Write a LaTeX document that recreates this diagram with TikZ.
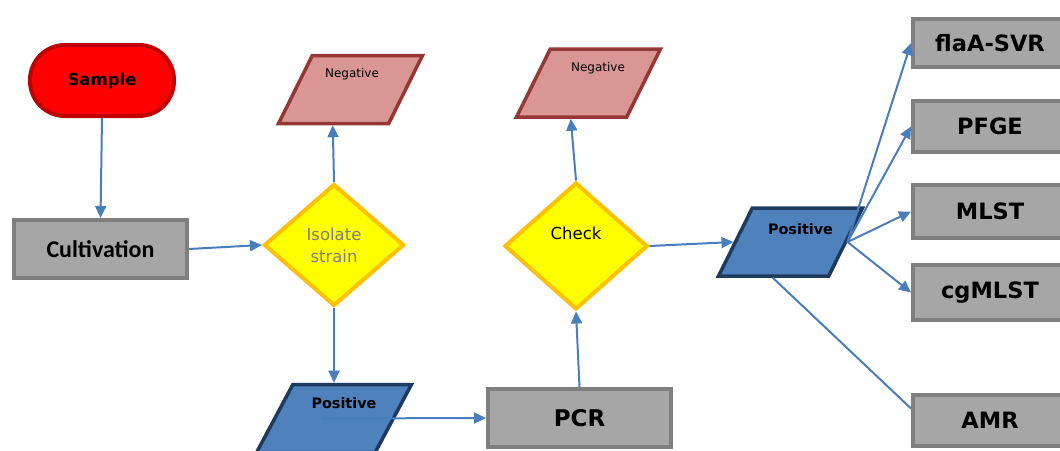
\documentclass[tikz,border=0pt]{standalone}
\usepackage{fontspec}
\setmainfont{DejaVu Sans}
\newfontfamily\calibri{Carlito}
\usetikzlibrary{shapes.geometric,arrows.meta}

\definecolor{arrowblue}{HTML}{4A7EBB}
\definecolor{boxfill}{HTML}{A6A6A6}
\definecolor{boxline}{HTML}{7F7F7F}
\definecolor{negfill}{HTML}{D99694}
\definecolor{negline}{HTML}{953735}
\definecolor{posfill}{HTML}{4F81BD}
\definecolor{posline}{HTML}{1F3A5F}
\definecolor{decfill}{HTML}{FFFF00}
\definecolor{decline}{HTML}{FFC000}
\definecolor{startfill}{HTML}{FF0000}
\definecolor{startline}{HTML}{C00000}

\tikzset{
  startbox/.style={rectangle, rounded corners=35pt, draw=startline, fill=startfill,
    line width=4pt, minimum width=144pt, minimum height=71pt, inner sep=0pt,
    font=\bfseries\fontsize{16.5}{20}\selectfont},
  procbox/.style={rectangle, draw=boxline, fill=boxfill, line width=4pt,
    inner sep=0pt, font=\bfseries\fontsize{22.5}{26}\selectfont},
  decision/.style={diamond, draw=decline, fill=decfill, line width=4pt,
    inner sep=0pt, align=center, font=\fontsize{16.5}{22}\selectfont},
  para/.style={trapezium, trapezium left angle=67, trapezium right angle=113,
    trapezium stretches=true, minimum height=68pt, inner sep=2pt, line width=3.5pt},
  negpara/.style={para, draw=negline, fill=negfill, minimum width=144pt},
  pospara/.style={para, draw=posline, fill=posfill},
  paratext/.style={inner sep=0pt},
  flow/.style={draw=arrowblue, line width=2pt, -{Triangle[length=12pt,width=11pt]}},
  plainflow/.style={draw=arrowblue, line width=2pt},
}

\begin{document}
\begin{tikzpicture}[x=1pt,y=-1pt]
\useasboundingbox (0,0) rectangle (1060,450);
\clip (0,0) rectangle (1060,450);

% start and first stage
\node[startbox] (sample) at (102,80.5) {Sample};
\node[procbox, minimum width=173pt, minimum height=58pt,
      font=\calibri\bfseries\fontsize{24}{28}\selectfont] (cult) at (100.5,249) {Cultivation};

% first decision
\node[decision, minimum width=140pt, minimum height=122pt, text=boxline] (iso) at (334,245) {Isolate\\strain};
\node[negpara] (neg1) at (350.5,89.5) {\phantom{X}};
\node[paratext, font=\fontsize{12}{14}\selectfont] (neg1t) at (352,74) {Negative};
\node[pospara, minimum width=155pt] (pos1) at (334,418.5) {\phantom{X}};
\node[paratext, font=\bfseries\fontsize{14.4}{17}\selectfont] (pos1t) at (344,403) {Positive};

% PCR and second decision
\node[procbox, minimum width=183pt, minimum height=58pt,
      font=\bfseries\fontsize{23}{27}\selectfont] (pcr) at (579.5,418) {PCR};
\node[decision, minimum width=143pt, minimum height=127pt] (check) at (576,246) {};
\node[paratext, font=\fontsize{16.5}{22}\selectfont] (checkt) at (576,233) {Check};
\node[negpara] (neg2) at (588.5,83) {\phantom{X}};
\node[paratext, font=\fontsize{12}{14}\selectfont] (neg2t) at (598,68) {Negative};
\node[pospara, minimum width=144pt] (pos2) at (790.5,242) {\phantom{X}};
\node[paratext, font=\bfseries\fontsize{14.4}{17}\selectfont] (pos2t) at (800.5,229) {Positive};

% typing methods
\node[procbox, minimum width=154pt, minimum height=48pt] (flaa) at (990,43) {flaA-SVR};
\node[procbox, minimum width=154pt, minimum height=51pt] (pfge) at (990,126.5) {PFGE};
\node[procbox, minimum width=154pt, minimum height=53pt] (mlst) at (990,211.5) {MLST};
\node[procbox, minimum width=154pt, minimum height=55pt] (cgmlst) at (990,292.5) {cgMLST};
\node[procbox, minimum width=154pt, minimum height=51pt] (amr) at (990,420.5) {AMR};

% connectors
\draw[flow] (sample.south) -- (cult.north);
\draw[flow] (cult.east) -- (iso.west);
\draw[flow] (iso.north) -- (neg1.bottom side);
\draw[flow] (iso.south) -- (iso.south |- pos1.north);
\draw[flow] ([xshift=-12pt]pos1.center) -- (pcr.west);
\draw[flow] (pcr.north) -- (check.south);
\draw[flow] (check.north) -- (neg2.bottom side);
\draw[flow] (check.east) -- (pos2.left side);
\draw[flow] (pos2.right side) -- (flaa.west);
\draw[flow] (pos2.right side) -- (pfge.west);
\draw[flow] (pos2.right side) -- (mlst.west);
\draw[flow] (pos2.right side) -- (cgmlst.west);
\draw[plainflow] (pos2.bottom side) -- ([yshift=12pt]amr.west);
\end{tikzpicture}
\end{document}
